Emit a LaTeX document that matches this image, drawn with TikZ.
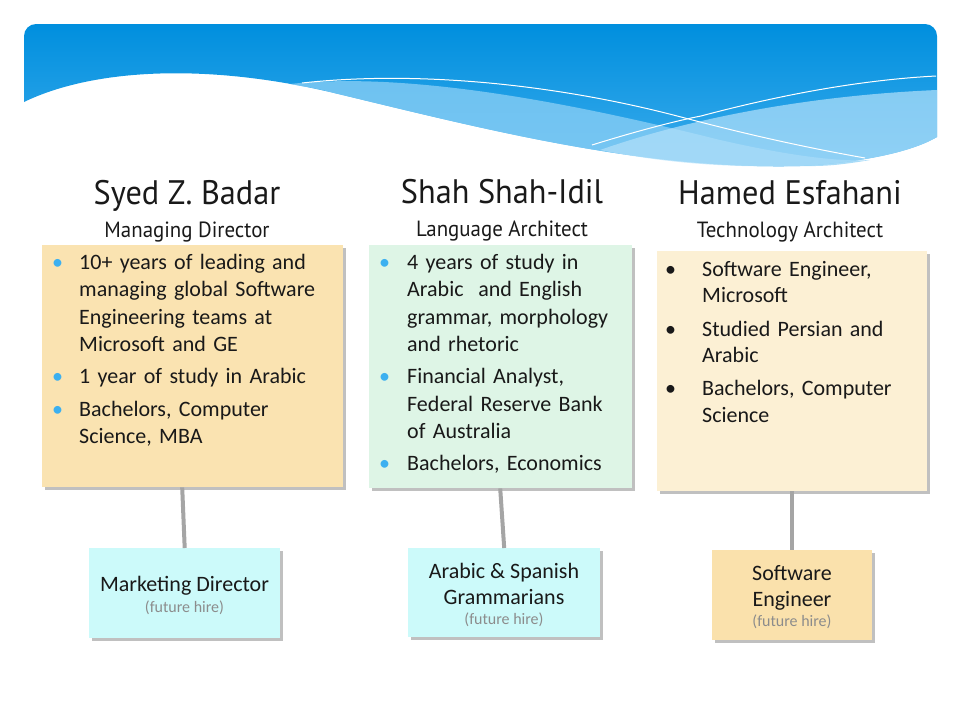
\documentclass[tikz,border=0pt]{standalone}
\usepackage{fontspec}
\setmainfont{Carlito}
\newfontfamily\namefont[FakeStretch=0.95]{PT Sans}
\usetikzlibrary{shadows}

\definecolor{bandtop}{RGB}{0,143,222}
\definecolor{bandbot}{RGB}{60,172,236}
\definecolor{bandlight}{RGB}{140,208,246}
\definecolor{bandpale}{RGB}{180,225,250}
\definecolor{cardorange}{RGB}{250,227,177}
\definecolor{cardgreen}{RGB}{222,245,230}
\definecolor{cardcream}{RGB}{252,240,212}
\definecolor{cardcyan}{RGB}{204,250,250}
\definecolor{hireorange}{RGB}{250,225,172}
\definecolor{bulblue}{RGB}{60,176,240}
\definecolor{linkgray}{RGB}{165,165,165}
\definecolor{hiregray}{RGB}{140,140,140}
\definecolor{inktext}{RGB}{25,25,25}

\newlength\bulind
% one bullet paragraph with a hanging indent
\newcommand\bitem[2]{\par\noindent\hangindent=\bulind\hangafter=1%
  \makebox[\bulind][l]{\textcolor{#1}{\textbullet}}#2\par}
% small grey note under a future position
\newcommand\hirenote[1]{{\fontsize{16}{18}\selectfont\color{hiregray}#1}}

\begin{document}
\begin{tikzpicture}[x=1pt,y=-1pt,
  card/.style={draw=none, inner sep=0pt, anchor=north west,
    drop shadow={shadow xshift=2.5pt, shadow yshift=-2.5pt, opacity=0.45, fill=black!55}},
  bodytext/.style={anchor=north west, inner sep=0pt, align=left, text width=290pt,
    font=\fontsize{22}{27.3}\selectfont, text=inktext},
  person/.style={font=\namefont\fontsize{34}{38}\selectfont, text=inktext, anchor=base},
  role/.style={font=\namefont\fontsize{22}{26}\selectfont, text=inktext, anchor=base},
  hiretext/.style={align=center, inner sep=0pt, text=inktext,
    font=\fontsize{22}{26}\selectfont},
  link/.style={draw=linkgray, line width=4pt}]
\useasboundingbox (0,0) rectangle (960,720);

% ---- blue header band with waves
\shade[top color=bandtop, bottom color=bandbot]
  (24,102) .. controls (90,70) and (200,62) .. (330,92)
  .. controls (480,128) and (640,170) .. (800,166)
  .. controls (870,162) and (915,150) .. (937,137)
  -- (937,36) arc[start angle=0, end angle=90, radius=12pt]
  -- (36,24) arc[start angle=90, end angle=180, radius=12pt] -- cycle;
\fill[bandlight, opacity=0.75]
  (290,84) .. controls (420,70) and (600,110) .. (720,140)
  .. controls (790,156) and (840,162) .. (870,160)
  .. controls (830,167) and (815,166) .. (800,166)
  .. controls (640,170) and (480,128) .. (330,92)
  .. controls (315,88) and (300,86) .. (290,84) -- cycle;
\fill[bandpale, opacity=0.7]
  (600,150) .. controls (700,115) and (820,95) .. (937,90)
  -- (937,137) .. controls (915,150) and (870,162) .. (800,166)
  .. controls (720,168) and (660,162) .. (600,150) -- cycle;
\draw[white, line width=1pt]
  (302,83) .. controls (420,70) and (560,85) .. (681,117)
  .. controls (760,138) and (820,150) .. (865,158);
\draw[white, line width=1pt]
  (592,145) .. controls (640,130) and (680,120) .. (701,116)
  .. controls (780,95) and (860,80) .. (936,76);

% ---- names and roles
\node[person] (n1) at (187,204) {Syed Z. Badar};
\node[role]   (r1) at (187,237) {Managing Director};
\node[person] (n2) at (502,203) {Shah Shah-Idil};
\node[role]   (r2) at (502,236) {Language Architect};
\node[person] (n3) at (790,204) {Hamed Esfahani};
\node[role]   (r3) at (790,237) {Technology Architect};

% ---- profile cards
\node[card, fill=cardorange, minimum width=301pt, minimum height=242pt] (c1) at (42,245) {};
\node[card, fill=cardgreen,  minimum width=263pt, minimum height=243pt] (c2) at (369,245) {};
\node[card, fill=cardcream,  minimum width=270pt, minimum height=240pt] (c3) at (657,251) {};

\node[bodytext] (t1) at (52,237) {\setlength\bulind{27pt}\parskip=5pt
  \bitem{bulblue}{10+ years of leading and\newline managing global Software\newline Engineering teams at\newline Microsoft and GE}
  \bitem{bulblue}{1 year of study in Arabic}
  \bitem{bulblue}{Bachelors, Computer\newline Science, MBA}};
\node[bodytext] (t2) at (379,237) {\setlength\bulind{28pt}\parskip=5pt
  \bitem{bulblue}{4 years of study in\newline Arabic\ \ and English\newline grammar, morphology\newline and rhetoric}
  \bitem{bulblue}{Financial Analyst,\newline Federal Reserve Bank\newline of Australia}
  \bitem{bulblue}{Bachelors, Economics}};
\node[bodytext, font=\fontsize{22}{26.6}\selectfont] (t3) at (665,243) {\setlength\bulind{37pt}\parskip=6.5pt
  \bitem{inktext}{Software Engineer,\newline Microsoft}
  \bitem{inktext}{Studied Persian and\newline Arabic}
  \bitem{inktext}{Bachelors, Computer\newline Science}};

% ---- future hires
\node[card, fill=cardcyan,   minimum width=191pt, minimum height=90pt] (h1) at (89,548) {};
\node[card, fill=cardcyan,   minimum width=192pt, minimum height=89pt] (h2) at (408,548) {};
\node[card, fill=hireorange, minimum width=160pt, minimum height=90pt] (h3) at (712,550) {};

\node[hiretext, anchor=center] (l1) at (184.5,595) {Marketing Director\\[-5pt]
  \hirenote{(future hire)}};
\node[hiretext, anchor=center] (l2) at (504,595) {Arabic \& Spanish\\Grammarians\\[-6pt]
  \hirenote{(future hire)}};
\node[hiretext, anchor=center] (l3) at (792,597) {Software\\Engineer\\[-6pt]
  \hirenote{(future hire)}};

% ---- reporting lines
\draw[link] ([xshift=-10.5pt]c1.south) -- (h1.north);
\draw[link] ([xshift=-0.5pt]c2.south) -- (h2.north);
\draw[link] (c3.south) -- (h3.north);
\end{tikzpicture}
\end{document}
